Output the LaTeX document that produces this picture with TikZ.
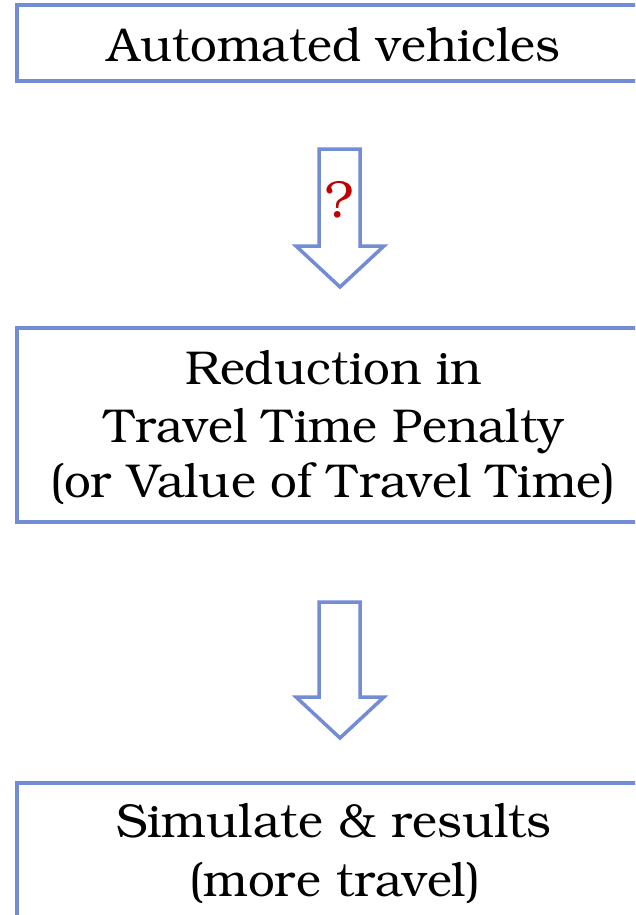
\documentclass[tikz,border=0pt]{standalone}
\usepackage[T1]{fontenc}
\usepackage{bookman}
\definecolor{boxblue}{RGB}{114,140,214}
\definecolor{qred}{RGB}{192,0,0}
\tikzset{
  box/.style={draw=boxblue, line width=3.5pt, fill=white, rectangle, inner sep=0pt},
  txt/.style={inner sep=0pt, align=center, text=black, font=\fontsize{47.5}{57}\selectfont},
  blockarrow/.style={draw=boxblue, line width=3.5pt, fill=white, line join=miter}
}
\begin{document}
\begin{tikzpicture}[x=1pt,y=-1pt]
\useasboundingbox (0,0) rectangle (635,915);
\clip (0,0) rectangle (635,915);
% boxes
\node[box, minimum width=635pt, minimum height=76pt] (b1) at (334.5,43) {};
\node[box, minimum width=635pt, minimum height=194pt] (b2) at (334.5,425) {};
\node[box, minimum width=635pt, minimum height=194pt] (b3) at (334.5,880) {};
% texts
\node[txt, anchor=base] (t1) at (334,62) {Automated vehicles};
\node[txt, anchor=base] (t2a) at (334,384) {Reduction in};
\node[txt, anchor=base] (t2b) at (334,442) {Travel Time Penalty};
\node[txt, anchor=base] (t2c) at (333,497) {(or Value of Travel Time)};
\node[txt, anchor=base] (t3a) at (334,837) {Simulate \& results};
\node[txt, anchor=base] (t3b) at (335,896) {(more travel)};
% arrows
\coordinate (a1) at (340,149);
\draw[blockarrow] (319,149) -- (360,149) -- (360,246) -- (384,246) -- (340,287) -- (296,246) -- (319,246) -- cycle;
\node[txt, anchor=base, text=qred, font=\fontsize{52}{60}\selectfont] (q) at (340,217) {?};
\coordinate (a2) at (340,602);
\draw[blockarrow] (319,602) -- (360,602) -- (360,697) -- (384,697) -- (340,738) -- (296,697) -- (319,697) -- cycle;
\end{tikzpicture}
\end{document}
